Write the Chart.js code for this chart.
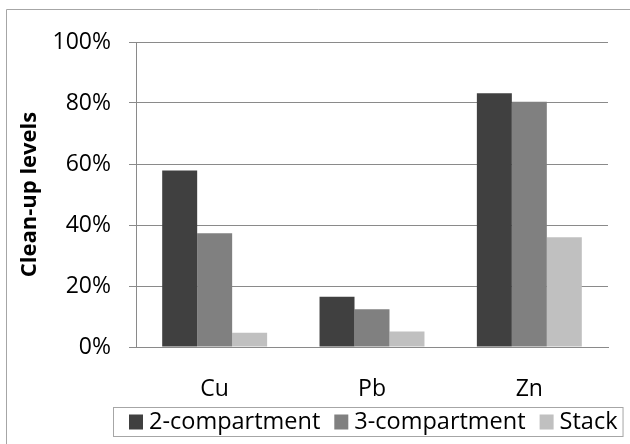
<!DOCTYPE html>
<html>
<head>
<meta charset="utf-8">
<script src="https://cdn.jsdelivr.net/npm/chart.js@4"></script>
<style>
  html, body { margin: 0; padding: 0; background: #fff; }
  #wrap { width: 630px; height: 444px; position: relative; }
</style>
</head>
<body>
<div id="wrap"><canvas id="c" width="630" height="444"></canvas></div>
<script>
const categories = ["Cu", "Pb", "Zn"];
const seriesNames = ["2-compartment", "3-compartment", "Stack"];
const twoCompartment = [57.9, 16.5, 83.2];
const threeCompartment = [37.3, 12.4, 80.4];
const stack = [4.7, 5.1, 36.0];
const yTicks = [0, 20, 40, 60, 80, 100];
const yTitle = "Clean-up levels";

const colors = ["#404040", "#808080", "#c0c0c0"];
const FONT = "'Open Sans', Lato, sans-serif";

const frame = {
  id: 'frame',
  beforeDraw(chart) {
    const ctx = chart.ctx;
    ctx.save();
    ctx.strokeStyle = '#a6a6a6';
    ctx.lineWidth = 1;
    ctx.beginPath();
    ctx.moveTo(6.5, 444);
    ctx.lineTo(6.5, 9.5);
    ctx.lineTo(630, 9.5);
    ctx.stroke();
    ctx.restore();
  }
};

const boxLegend = {
  id: 'boxLegend',
  afterDraw(chart) {
    const ctx = chart.ctx;
    ctx.save();
    ctx.font = "23.5px " + FONT;
    ctx.textBaseline = 'middle';
    const top = 407, h = 29, cy = top + h / 2 + 0.5;
    const box = 15, gapText = 6, gapItem = 14;
    let x = 129;
    const startBox = 113;
    chart.data.datasets.forEach((ds, i) => {
      ctx.fillStyle = ds.backgroundColor;
      ctx.fillRect(x, cy - box / 2, box - 1, box);
      x += box + gapText - 1;
      ctx.fillStyle = '#000';
      ctx.fillText(ds.label, x, cy);
      x += ctx.measureText(ds.label).width + gapItem;
    });
    const right = x - gapItem + 5;
    ctx.strokeStyle = '#a6a6a6';
    ctx.lineWidth = 1;
    ctx.strokeRect(startBox + 0.5, top + 0.5, right - startBox, h);
    ctx.restore();
  }
};

new Chart(document.getElementById('c'), {
  type: 'bar',
  data: {
    labels: categories,
    datasets: [
      { label: seriesNames[0], data: twoCompartment, backgroundColor: colors[0] },
      { label: seriesNames[1], data: threeCompartment, backgroundColor: colors[1] },
      { label: seriesNames[2], data: stack, backgroundColor: colors[2] }
    ]
  },
  options: {
    responsive: false,
    animation: false,
    devicePixelRatio: 1,
    layout: { padding: { left: 0, right: 22, top: 42, bottom: 37 } },
    datasets: { bar: { barPercentage: 1, categoryPercentage: 0.667, borderWidth: 0 } },
    plugins: {
      legend: { display: false },
      tooltip: { enabled: false }
    },
    scales: {
      x: {
        grid: { display: false },
        border: { display: true, color: '#8a8a8a', width: 1 },
        ticks: { color: '#000', font: { family: FONT, size: 23 }, padding: 21 },
        afterFit(s) { s.height = 60; }
      },
      y: {
        min: 0, max: 100,
        afterBuildTicks(s) { s.ticks = yTicks.map(v => ({ value: v })); },
        grid: { color: '#8a8a8a', lineWidth: 1, tickLength: 7, drawTicks: true },
        border: { display: true, color: '#8a8a8a', width: 1 },
        ticks: { color: '#000', font: { family: FONT, size: 23 }, padding: 18, callback: v => v + '%' },
        title: { display: true, text: yTitle, color: '#000', font: { family: FONT, size: 22, weight: 'bold' }, padding: { top: 17, bottom: 0 } },
        afterFit(s) { s.width = 136; }
      }
    }
  },
  plugins: [frame, boxLegend]
});
</script>
</body>
</html>
